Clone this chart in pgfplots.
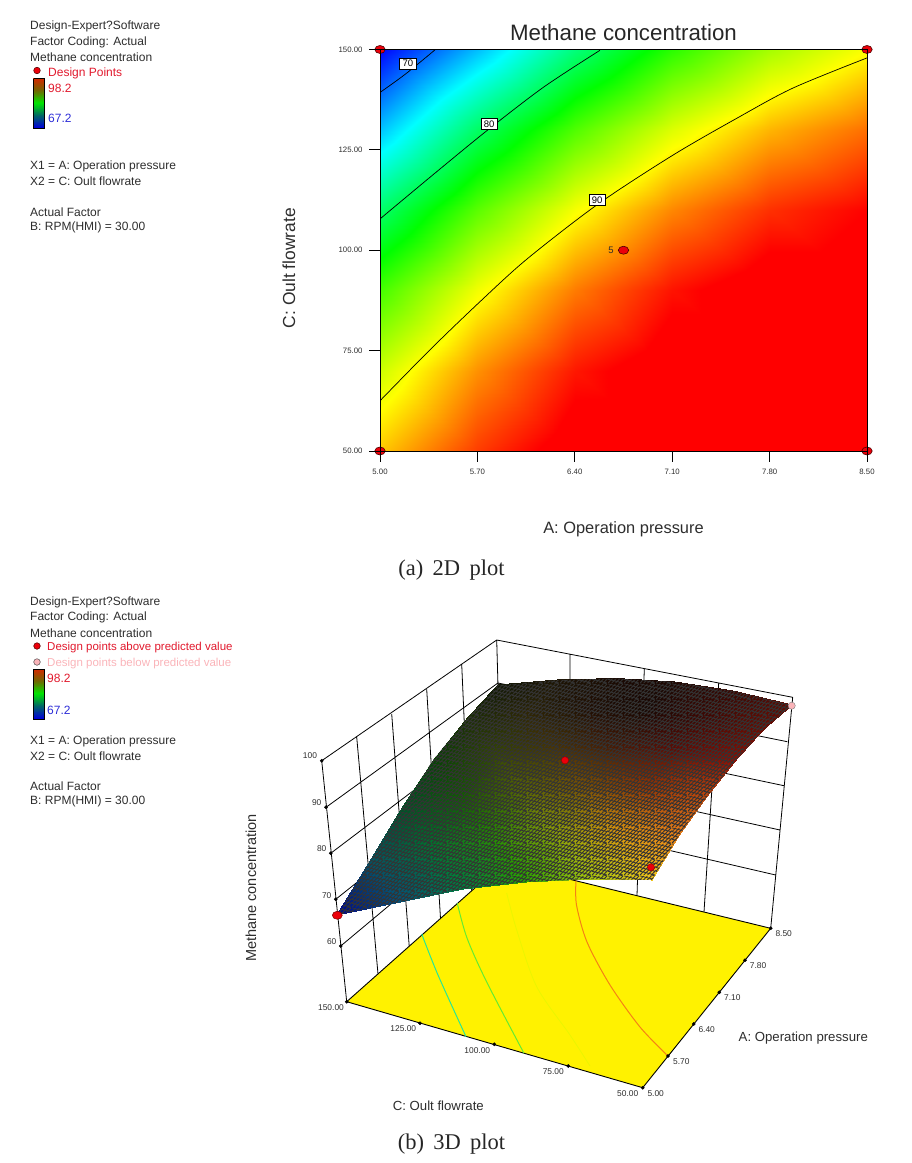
\documentclass[border=0pt]{standalone}
\usepackage{fontspec}
\setmainfont{Liberation Sans}
\newfontfamily\capfont{Liberation Serif}
\usepackage{pgfplots}
\pgfplotsset{compat=1.18}
\usetikzlibrary{patterns}

\definecolor{legtext}{RGB}{45,45,45}
\definecolor{legred}{RGB}{225,25,45}
\definecolor{legblue}{RGB}{45,45,215}
\definecolor{legpink}{RGB}{250,180,185}
\definecolor{ptred}{RGB}{235,0,10}

% dark mesh lines of the response surface
\pgfdeclarepatternformonly{desemesh}{\pgfqpoint{0pt}{0pt}}{\pgfqpoint{16pt}{16pt}}{\pgfqpoint{16pt}{16pt}}{
  \pgfsetlinewidth{0.85pt}
  \foreach \k in {-1,0,1,2,3,4}{
    \pgfpathmoveto{\pgfqpoint{0pt}{\numexpr4*\k+4\relax pt}}
    \pgfpathlineto{\pgfqpoint{16pt}{\numexpr4*\k\relax pt}}
  }
  \foreach \k in {-4,-3,-2,-1,0,1,2,3}{
    \pgfpathmoveto{\pgfqpoint{\numexpr4*\k\relax pt}{0pt}}
    \pgfpathlineto{\pgfqpoint{\numexpr4*\k+16\relax pt}{16pt}}
  }
  \pgfusepath{stroke}
}

\newcommand{\leg}[4][legtext]{\node[anchor=west,inner sep=0pt,yshift=-1.5pt,text=#1,font=\fontsize{12}{14}\selectfont] at (axis cs:#2,#3) {#4};}
\newcommand{\tl}[3]{\node[inner sep=0pt,text=legtext,font=\fontsize{8.4}{10}\selectfont] at (axis cs:#1,#2) {#3};}
\tikzset{clabel/.style={draw=black,fill=white,inner sep=0pt,minimum width=16.5pt,minimum height=11pt,font=\fontsize{9.5}{10}\selectfont}}

\begin{document}
\begin{tikzpicture}[x=1pt,y=1pt]
\path[use as bounding box] (0,0) rectangle (912,1163);

% --- (a) 2D plot ---
\begin{axis}[
  at={(380pt,712pt)}, anchor=south west,
  scale only axis, width=487pt, height=401.5pt,
  xmin=5, xmax=8.5, ymin=50, ymax=150,
  xtick={5,5.7,6.4,7.1,7.8,8.5}, ytick={50,75,100,125,150},
  xtick pos=lower, ytick pos=lower,
  tick align=outside, major tick length=11pt,
  tick style={black,line width=0.8pt},
  axis line style={black,line width=0.9pt},
  axis on top,
  /pgf/number format/assume math mode=true,
  /pgf/number format/fixed, /pgf/number format/fixed zerofill, /pgf/number format/precision=2,
  tick label style={font=\fontsize{7.8}{9}\selectfont,text=legtext},
  xticklabel style={yshift=-3.5pt}, yticklabel style={xshift=-3pt},
  colormap={de}{rgb255(0)=(0,0,255) rgb255(78)=(0,255,255) rgb255(153)=(0,255,0) rgb255(228)=(255,255,0) rgb255(298)=(255,0,0) rgb255(310)=(255,0,0)},
  point meta min=67.2, point meta max=98.2,
  title={Methane concentration},
  title style={at={(axis description cs:0.5,1)},anchor=center,yshift=10.5pt,font=\fontsize{22.3}{25}\selectfont,text=black!85},
  xlabel={A: Operation pressure},
  every axis x label/.style={at={(axis description cs:0.5,0)},anchor=center,yshift=-78pt,font=\fontsize{16.4}{18}\selectfont,text=legtext},
  ylabel={C: Oult flowrate},
  every axis y label/.style={at={(axis description cs:0,0.5)},anchor=center,xshift=-91pt,yshift=-18pt,rotate=90,font=\fontsize{17.4}{19}\selectfont,text=legtext},
  clip mode=individual,
]
  \addplot[surf, shader=interp, mesh/rows=6, point meta=explicit] table[x=a,y=c,meta=v] {
a c v
5.0 50 91.50
5.7 50 95.34
6.4 50 98.06
7.1 50 99.66
7.8 50 100.14
8.5 50 99.50
5.0 70 88.54
5.7 70 93.02
6.4 70 96.38
7.1 70 98.62
7.8 70 99.74
8.5 70 99.74
5.0 90 84.50
5.7 90 89.62
6.4 90 93.62
7.1 90 96.50
7.8 90 98.26
8.5 90 98.90
5.0 110 79.38
5.7 110 85.14
6.4 110 89.78
7.1 110 93.30
7.8 110 95.70
8.5 110 96.98
5.0 130 73.18
5.7 130 79.58
6.4 130 84.86
7.1 130 89.02
7.8 130 92.06
8.5 130 93.98
5.0 150 65.90
5.7 150 72.94
6.4 150 78.86
7.1 150 83.66
7.8 150 87.34
8.5 150 89.90
  };
  % contours
  \addplot[black, line width=0.7pt, smooth] coordinates {(5,139.3) (5.18,143.8) (5.395,149.9)};
  \addplot[black, line width=0.7pt, smooth] coordinates {(5,107.8) (5.388,119) (5.776,130) (6.179,140.7) (6.581,149.8)};
  \addplot[black, line width=0.7pt, smooth] coordinates {(5,62.5) (5.359,75.2) (5.719,87.2) (6.056,97.8) (6.567,111.5) (7.106,123.7) (7.566,132.9) (7.968,140.4) (8.5,147.9)};
  \node[clabel] at (axis cs:5.2,146.5) {70};
  \node[clabel] at (axis cs:5.785,131.5) {80};
  \node[clabel] at (axis cs:6.56,112.5) {90};
  % design points
  \addplot[only marks, mark=*, mark size=4pt, mark options={xscale=1.3,fill=ptred,draw=black!70!red,line width=0.6pt}] coordinates {(5,50) (5,150) (8.5,50) (8.5,150) (6.75,100)};
  \node[font=\fontsize{9.5}{10}\selectfont,text=legtext,inner sep=0pt] at (axis cs:6.66,100) {5};
\end{axis}

% --- legends and (b) 3D plot, drawn in picture coordinates because of the perspective ---
\begin{axis}[
  at={(0pt,0pt)}, anchor=south west,
  scale only axis, width=912pt, height=1163pt,
  xmin=0, xmax=912, ymin=0, ymax=1163, y dir=reverse,
  hide axis, clip=false, unbounded coords=jump,
]
  % legend (a)
  \leg{30}{24.5}{Design-Expert?Software}
  \leg{30}{40.5}{Factor Coding: Actual}
  \leg{30}{55.5}{Methane concentration}
  \addplot[only marks, mark=*, mark size=3.3pt, mark options={fill=ptred,draw=black!70!red,line width=0.5pt}] coordinates {(37,70.5)};
  \leg[legred]{48}{71.5}{Design Points}
  \leg[legred]{48}{87}{98.2}
  \leg[legblue]{48}{117}{67.2}
  \leg{30}{164.5}{X1 = A: Operation pressure}
  \leg{30}{179.5}{X2 = C: Oult flowrate}
  \leg{30}{210.5}{Actual Factor}
  \leg{30}{226}{B: RPM(HMI) = 30.00}
  \addplot[surf, shader=interp, mesh/rows=5, mesh/color input=explicit, point meta=explicit symbolic] table[meta=c] {
x y c
33.5 78.5 rgb=0.85,0.15,0
44.5 78.5 rgb=0.85,0.15,0
33.5 91 rgb=0.45,0.4,0
44.5 91 rgb=0.45,0.4,0
33.5 103.5 rgb=0,0.9,0
44.5 103.5 rgb=0,0.9,0
33.5 116 rgb=0,0.4,0.4
44.5 116 rgb=0,0.4,0.4
33.5 128 rgb=0,0,0.85
44.5 128 rgb=0,0,0.85
  };
  \addplot[black, line width=0.8pt] coordinates {(33.5,78.5) (44.5,78.5) (44.5,128) (33.5,128) (33.5,78.5)};

  % legend (b)
  \leg{30}{600.5}{Design-Expert?Software}
  \leg{30}{616}{Factor Coding: Actual}
  \leg{30}{631.5}{Methane concentration}
  \addplot[only marks, mark=*, mark size=3.3pt, mark options={fill=ptred,draw=black!70!red,line width=0.5pt}] coordinates {(37,646)};
  \addplot[only marks, mark=*, mark size=3.3pt, mark options={fill=legpink,draw=black!70,line width=0.5pt}] coordinates {(37,662)};
  \node[anchor=west,inner sep=0pt,yshift=-1.5pt,text=legred,font=\fontsize{11.5}{14}\selectfont] at (axis cs:47,646.5) {Design points above predicted value};
  \node[anchor=west,inner sep=0pt,yshift=-1.5pt,text=legpink,font=\fontsize{11.5}{14}\selectfont] at (axis cs:47,662.5) {Design points below predicted value};
  \leg[legred]{47}{677}{98.2}
  \leg[legblue]{47}{708.5}{67.2}
  \leg{30}{739.5}{X1 = A: Operation pressure}
  \leg{30}{754.5}{X2 = C: Oult flowrate}
  \leg{30}{785}{Actual Factor}
  \leg{30}{800}{B: RPM(HMI) = 30.00}
  \addplot[surf, shader=interp, mesh/rows=5, mesh/color input=explicit, point meta=explicit symbolic] table[meta=c] {
x y c
33.5 669 rgb=0.85,0.15,0
44.5 669 rgb=0.85,0.15,0
33.5 681.5 rgb=0.45,0.4,0
44.5 681.5 rgb=0.45,0.4,0
33.5 694 rgb=0,0.9,0
44.5 694 rgb=0,0.9,0
33.5 706.5 rgb=0,0.4,0.4
44.5 706.5 rgb=0,0.4,0.4
33.5 719 rgb=0,0,0.85
44.5 719 rgb=0,0,0.85
  };
  \addplot[black, line width=0.8pt] coordinates {(33.5,669) (44.5,669) (44.5,719) (33.5,719) (33.5,669)};

  % walls of the 3D box
  \addplot[black, line width=0.8pt] coordinates {
    (321.7,760.7) (346.7,1001.7) (nan,nan)
    (496.7,640) (503,863) (nan,nan)
    (792.7,697.3) (770.7,928.3) (nan,nan)
    (321.7,760.7) (496.7,640) (792.7,697.3) (nan,nan)
    (326,807.3) (497.9,683) (787.3,741.7) (nan,nan)
    (330.7,853.3) (499.1,725.7) (784,785.7) (nan,nan)
    (335.7,899.3) (500.3,768.2) (780,830) (nan,nan)
    (340.7,946) (501.5,811.5) (775.7,875) (nan,nan)
    (356.7,737) (378,974) (nan,nan)
    (391.7,714) (409.2,946) (nan,nan)
    (426.7,689.3) (440.5,918.5) (nan,nan)
    (461.7,664.3) (471.7,890.9) (nan,nan)
    (570,654.4) (570,879) (nan,nan)
    (644.3,669) (637,895.5) (nan,nan)
    (718.7,683) (704,912) (nan,nan)
  };
  % floor
  \addplot[fill=yellow, draw=black, line width=0.9pt] coordinates {(346.7,1001.7) (642.7,1087.7) (770.7,928.3) (503,863) (346.7,1001.7)};
  % contours on the floor
  \addplot[color={rgb,255:red,40;green,230;blue,150}, line width=1pt, smooth] coordinates {(421.7,934) (438,975) (466,1036.7)};
  \addplot[color={rgb,255:red,100;green,235;blue,50}, line width=1pt, smooth] coordinates {(457.3,903.3) (467,938) (486.7,982) (524,1053.3)};
  \addplot[color={rgb,255:red,235;green,245;blue,0}, line width=0.8pt, smooth] coordinates {(506.7,893) (516.7,930) (536.7,986.7) (570,1035) (590,1066)};
  \addplot[color={rgb,255:red,245;green,130;blue,20}, line width=1pt, smooth] coordinates {(576,880.7) (576.5,905) (587,942) (610,985) (640,1027) (668,1056)};
  % tick dots
  \addplot[only marks, mark=*, mark size=1.6pt, black] coordinates {
    (321.7,760.7) (326,807.3) (330.7,853.3) (335.7,899.3) (340.7,946) (346.7,1001.7)
    (420,1023.3) (494.3,1044.3) (568.3,1066) (642.7,1087.7)
    (668,1056) (693.7,1024) (719.3,992.3) (745,960.3) (770.7,928.3)
  };

  % surface, front edge to back edge
  \addplot[surf, shader=interp, mesh/rows=6, mesh/color input=explicit, point meta=explicit symbolic] table[meta=c] {
x y c
337 915 rgb=0,.02,.55
400 902 rgb=.01,.32,.48
463 889 rgb=0,.5,.25
526 882 rgb=.16,.65,0
589 879 rgb=.65,.78,.05
652 880 rgb=.95,.78,.1
369 863 rgb=.02,.32,.4
431 850.6 rgb=.01,.45,.2
493.5 838.9 rgb=.15,.55,.02
556 833 rgb=.55,.62,.03
618 831.4 rgb=.85,.58,.05
680 834 rgb=.92,.5,.1
401 810 rgb=0,.32,.16
463 799.8 rgb=.08,.36,.02
524 791 rgb=.35,.4,.02
585.4 787.8 rgb=.48,.32,.02
646.7 789.2 rgb=.58,.22,.02
708 795 rgb=.75,.28,.05
434 760 rgb=.03,.26,.02
494 752.2 rgb=.2,.27,.02
554.6 746.5 rgb=.28,.2,.02
615 746.2 rgb=.28,.1,.02
675.5 750.8 rgb=.38,.05,.02
736 760 rgb=.55,.06,.02
466 720 rgb=.1,.18,.02
525.4 713.4 rgb=.18,.15,.02
585 709.6 rgb=.13,.06,.01
644.7 711 rgb=.1,.03,.01
704.4 717.6 rgb=.25,.03,.01
764 729 rgb=.42,.05,.01
498 685 rgb=.06,.09,.02
557 680 rgb=.11,.08,.02
616 678.5 rgb=.1,.04,.01
675 682 rgb=.12,.03,.01
733 691 rgb=.22,.03,.01
792 705 rgb=.38,.04,.01
  };
  \addplot[draw=none, pattern=desemesh, pattern color=black!80] coordinates {
    (337,915) (400,902) (463,889) (526,882) (589,879) (652,880)
    (680,834) (708,795) (736,760) (764,729) (792,705)
    (733,691) (675,682) (616,678.5) (557,680) (498,685)
    (466,720) (433,760) (401,810) (369,863) (337,915)
  };
  % design points
  \addplot[only marks, mark=*, mark size=3.6pt, mark options={fill=ptred,draw=black!40!red,line width=0.4pt}] coordinates {(565,760.3) (651,867.3)};
  \addplot[only marks, mark=*, mark size=4pt, mark options={xscale=1.25,fill=ptred,draw=black!50!red,line width=0.5pt}] coordinates {(337.3,915.3)};
  \addplot[only marks, mark=*, mark size=3.6pt, mark options={fill=legpink,draw=black!50,line width=0.4pt}] coordinates {(791.7,705.7)};

  % tick labels of the box
  \tl{310}{756}{100}
  \tl{316.7}{802.7}{90}
  \tl{321.7}{849}{80}
  \tl{326.7}{895.7}{70}
  \tl{331.7}{941.7}{60}
  \tl{331}{1007.3}{150.00}
  \tl{403.3}{1028.3}{125.00}
  \tl{477.3}{1050.7}{100.00}
  \tl{553.3}{1071.7}{75.00}
  \tl{627.7}{1093.3}{50.00}
  \tl{655.7}{1093.3}{5.00}
  \tl{681.3}{1061.7}{5.70}
  \tl{706.7}{1029.3}{6.40}
  \tl{732.3}{997.3}{7.10}
  \tl{758}{965.7}{7.80}
  \tl{783.7}{933.3}{8.50}
  \node[text=legtext,font=\fontsize{13.2}{15}\selectfont] at (axis cs:803.3,1038) {A: Operation pressure};
  \node[text=legtext,font=\fontsize{13.2}{15}\selectfont] at (axis cs:438.3,1106) {C: Oult flowrate};
  \node[text=legtext,rotate=90,font=\fontsize{14.5}{16}\selectfont] at (axis cs:251,888) {Methane concentration};

  % captions
  \node[text=black!85,font=\capfont\fontsize{22.5}{25}\selectfont] at (axis cs:451.5,570) {(a)\, 2D\, plot};
  \node[text=black!85,font=\capfont\fontsize{22.5}{25}\selectfont] at (axis cs:451.5,1144) {(b)\, 3D\, plot};
\end{axis}
\end{tikzpicture}
\end{document}
